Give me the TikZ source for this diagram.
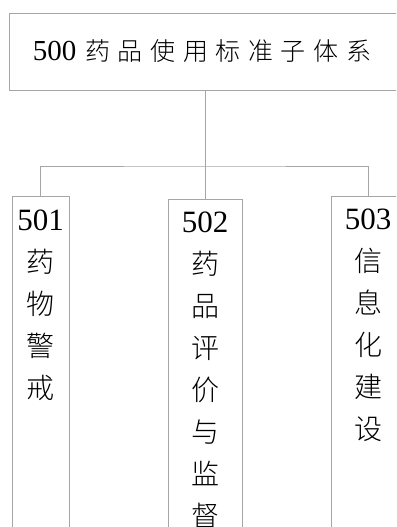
\documentclass[tikz,border=0pt]{standalone}
\usepackage{fontspec}
\setmainfont{Liberation Serif}
\newfontfamily\cjk{Noto Sans CJK SC}[UprightFont=* Light]
\newcommand\dg[1]{{\fontsize{31}{42}\selectfont\rmfamily #1}}
\newcommand\tk{\kern7.6pt}
\begin{document}
\begin{tikzpicture}[x=1pt,y=-1pt,
  line/.style={draw=black!35, line width=0.8pt},
  box/.style={line, rectangle, inner sep=0pt, minimum height=360pt, anchor=north},
  vtext/.style={align=center, inner sep=0pt, anchor=north, font=\fontsize{28}{42}\selectfont\cjk}]
\useasboundingbox (0,0) rectangle (396,527);
\clip (0,0) rectangle (396,527);
\node[line, rectangle, inner sep=0pt, minimum width=392pt, minimum height=77pt] (top) at (205,51.5) {};
\node[inner sep=0pt, font=\fontsize{25}{30}\selectfont\cjk] (title) at (202,51)
  {{\fontsize{29}{30}\selectfont\rmfamily 500}\kern9pt 药\tk 品\tk 使\tk 用\tk 标\tk 准\tk 子\tk 体\tk 系};
\node[box, minimum width=57pt] (b1) at (40.5,196) {};
\node[box, minimum width=74pt] (b2) at (205,199) {};
\node[box, minimum width=74pt] (b3) at (368,196) {};
\node[vtext] (t1) at ([yshift=-14pt]b1.north) {\dg{501}\\药\\物\\警\\戒};
\node[vtext] (t2) at ([yshift=-13pt]b2.north) {\dg{502}\\药\\品\\评\\价\\与\\监\\督};
\node[vtext] (t3) at ([yshift=-12.5pt]b3.north) {\dg{503}\\信\\息\\化\\建\\设};
\coordinate (bus) at (205,166);
\draw[line] (top.south) -- (bus);
\draw[line] (b1.north) |- (bus) -| (b3.north);
\draw[line] (bus) -- (b2.north);
\end{tikzpicture}
\end{document}
